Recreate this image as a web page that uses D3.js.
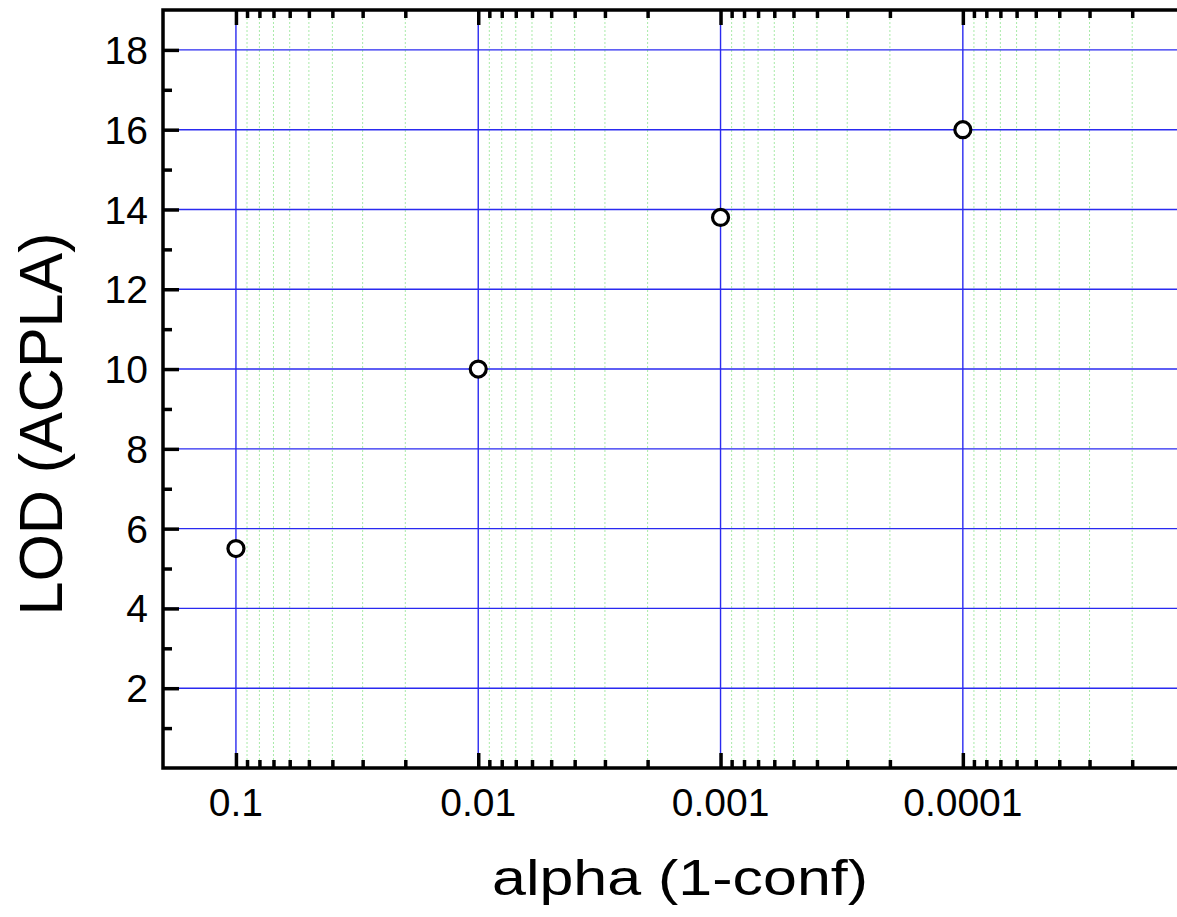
<!DOCTYPE html>
<html>
<head>
<meta charset="utf-8">
<script src="https://cdn.jsdelivr.net/npm/d3@7"></script>
<style>
  body { margin: 0; background: #fff; }
  svg { display: block; font-family: "Liberation Sans", Arial, sans-serif; }
</style>
</head>
<body>
<div id="vis"></div>
<script>
// data
const alphaVals = [0.1, 0.01, 0.001, 0.0001];
const lodVals = [5.5, 10, 13.8, 16];
const xTickVals = [0.1, 0.01, 0.001, 0.0001];
const xTickLabels = ['0.1', '0.01', '0.001', '0.0001'];
const yTickVals = [2, 4, 6, 8, 10, 12, 14, 16, 18];
const yMinorVals = [1, 3, 5, 7, 9, 11, 13, 15, 17];

const W = 1177, H = 917;
const plotLeft = 163, plotTop = 10, plotBottom = 768, decade = 242.3;
const plotRight = W + 40;

const svg = d3.select('#vis')
    .append('svg')
    .attr('width', W)
    .attr('height', H);

// log axis runs backwards: 0.2 on the left, 1e-5 off the right edge
const xScale = d3.scaleLog()
    .domain([0.2, 0.00001])
    .range([plotLeft, plotLeft + decade * Math.log10(0.2 / 0.00001)]);

const yScale = d3.scaleLinear()
    .domain([0, 19])
    .range([plotBottom, plotTop]);

// minor x ticks: 2..9 in each decade
let xMinor = []
for (let e = -5; e <= -1; e++) {
    for (let m = 2; m <= 9; m++) {
        const v = m * Math.pow(10, e)
        if (v < 0.2 && v > 0.00001) xMinor.push(v)
    }
}

// green dotted minor grid
svg.append('g')
    .selectAll('line')
    .data(xMinor)
    .join('line')
    .attr('x1', d => xScale(d)).attr('x2', d => xScale(d))
    .attr('y1', plotTop).attr('y2', plotBottom)
    .attr('stroke', '#a8eaa8')
    .attr('stroke-width', 1)
    .attr('stroke-dasharray', '2,2');

// blue major grid
svg.append('g')
    .selectAll('line')
    .data(yTickVals)
    .join('line')
    .attr('x1', plotLeft).attr('x2', plotRight)
    .attr('y1', d => yScale(d)).attr('y2', d => yScale(d))
    .attr('stroke', '#2a2af0')
    .attr('stroke-width', 1.4);

svg.append('g')
    .selectAll('line')
    .data(xTickVals)
    .join('line')
    .attr('x1', d => xScale(d)).attr('x2', d => xScale(d))
    .attr('y1', plotTop).attr('y2', plotBottom)
    .attr('stroke', '#2a2af0')
    .attr('stroke-width', 1.4);

// axes with inward ticks
const bottomAxis = d3.axisTop(xScale).tickValues(xTickVals).tickSize(15).tickFormat('');
const bottomMinor = d3.axisTop(xScale).tickValues(xMinor).tickSize(8).tickFormat('');
const topAxis = d3.axisBottom(xScale).tickValues(xTickVals).tickSize(15).tickFormat('');
const topMinor = d3.axisBottom(xScale).tickValues(xMinor).tickSize(8).tickFormat('');
const leftAxis = d3.axisRight(yScale).tickValues(yTickVals).tickSize(16).tickFormat('');
const leftMinor = d3.axisRight(yScale).tickValues(yMinorVals).tickSize(9).tickFormat('');

function styleAxis(g) {
    g.select('.domain').remove()
    g.selectAll('.tick line').attr('stroke', '#000').attr('stroke-width', 3.5)
}

svg.append('g').attr('transform', `translate(0,${plotBottom})`).call(bottomAxis).call(styleAxis);
svg.append('g').attr('transform', `translate(0,${plotBottom})`).call(bottomMinor).call(styleAxis);
svg.append('g').attr('transform', `translate(0,${plotTop})`).call(topAxis).call(styleAxis);
svg.append('g').attr('transform', `translate(0,${plotTop})`).call(topMinor).call(styleAxis);
svg.append('g').attr('transform', `translate(${plotLeft},0)`).call(leftAxis).call(styleAxis);
svg.append('g').attr('transform', `translate(${plotLeft},0)`).call(leftMinor).call(styleAxis);

// frame lines
svg.append('path')
    .attr('d', `M${plotRight},${plotTop}H${plotLeft}V${plotBottom}H${plotRight}`)
    .attr('fill', 'none')
    .attr('stroke', '#000')
    .attr('stroke-width', 3.5);

// tick labels
svg.append('g')
    .selectAll('text')
    .data(yTickVals)
    .join('text')
    .attr('x', 148)
    .attr('y', d => yScale(d))
    .attr('dy', '0.36em')
    .attr('text-anchor', 'end')
    .style('font-size', '39px')
    .text(d => d);

svg.append('g')
    .selectAll('text')
    .data(xTickVals)
    .join('text')
    .attr('x', d => xScale(d))
    .attr('y', 816)
    .attr('text-anchor', 'middle')
    .style('font-size', '39px')
    .text((d, i) => xTickLabels[i]);

// axis titles
svg.append('text')
    .attr('x', 680)
    .attr('y', 895)
    .attr('text-anchor', 'middle')
    .attr('textLength', 376)
    .attr('lengthAdjust', 'spacingAndGlyphs')
    .style('font-size', '50px')
    .text('alpha (1-conf)');

svg.append('text')
    .attr('transform', 'translate(62,424) rotate(-90)')
    .attr('text-anchor', 'middle')
    .style('font-size', '61px')
    .text('LOD (ACPLA)');

// points
svg.append('g')
    .selectAll('circle')
    .data(alphaVals)
    .join('circle')
    .attr('cx', d => xScale(d))
    .attr('cy', (d, i) => yScale(lodVals[i]))
    .attr('r', 8)
    .attr('fill', '#fff')
    .attr('stroke', '#000')
    .attr('stroke-width', 3.2);
</script>
</body>
</html>
